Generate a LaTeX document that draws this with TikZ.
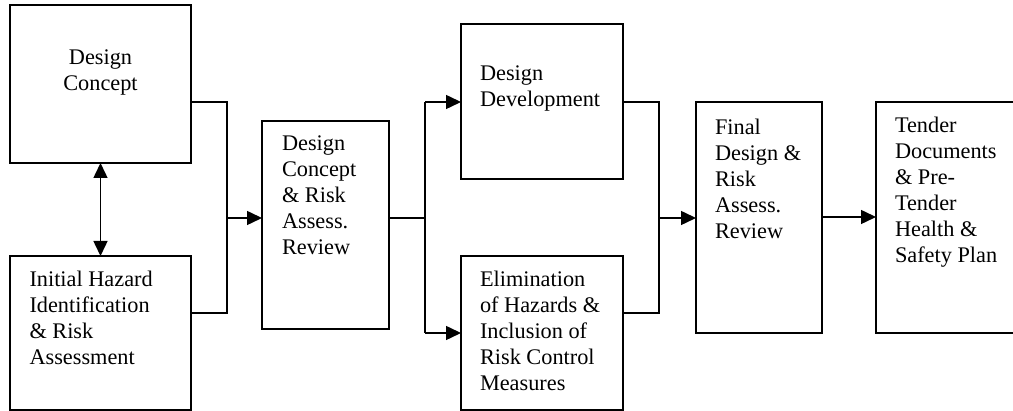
\documentclass[tikz,border=0pt]{standalone}
\usepackage{fontspec}
\setmainfont{Liberation Serif}
\usetikzlibrary{arrows.meta}
\tikzset{
  box/.style={draw=black, line width=1.5pt, inner sep=0pt, outer sep=0pt, anchor=north west},
  txt/.style={inner sep=0pt, outer sep=0pt, align=left, anchor=base west, font=\fontsize{22.3}{26}\selectfont},
  conn/.style={line width=1.5pt},
  arr/.style={line width=1.5pt, -{Triangle[length=15pt,width=14pt]}},
  darr/.style={line width=1.5pt, {Triangle[length=15pt,width=14pt]}-{Triangle[length=15pt,width=14pt]}}
}
\begin{document}
\begin{tikzpicture}[x=1pt,y=-1pt]
\useasboundingbox (0,0) rectangle (1013,411);
% boxes
\node[box, minimum width=181pt, minimum height=158pt] (dc) at (10,5) {};
\node[box, minimum width=181pt, minimum height=154pt] (ih) at (10,256) {};
\node[box, minimum width=127pt, minimum height=208pt] (dcr) at (262,121) {};
\node[box, minimum width=162pt, minimum height=155pt] (dd) at (461,24) {};
\node[box, minimum width=162pt, minimum height=154pt] (el) at (461,256) {};
\node[box, minimum width=126pt, minimum height=231pt] (fd) at (696,102) {};
\node[box, minimum width=150pt, minimum height=231pt] (td) at (876,102) {};
% texts (anchored at the baseline of the last line)
\node[txt, align=center, anchor=base] (dctx) at (100.5,91) {Design\\Concept};
\node[txt] (ihtx) at (29.5,364.5) {Initial Hazard\\Identification\\\& Risk\\Assessment};
\node[txt] (dcrtx) at (282,255) {Design\\Concept\\\& Risk\\Assess.\\Review};
\node[txt] (ddtx) at (480,107) {Design\\Development};
\node[txt] (eltx) at (480,391) {Elimination\\of Hazards \&\\Inclusion of\\Risk Control\\Measures};
\node[txt] (fdtx) at (715,239) {Final\\Design \&\\Risk\\Assess.\\Review};
\node[txt] (tdtx) at (895,263) {Tender\\Documents\\\& Pre-\\Tender\\Health \&\\Safety Plan};
% junction coordinates
\coordinate (ja) at (227,102);
\coordinate (jb) at (227,313);
\coordinate (jm) at (227,218);
\coordinate (ka) at (425,102);
\coordinate (kb) at (425,333);
\coordinate (km) at (425,218);
\coordinate (la) at (659,102);
\coordinate (lb) at (659,313);
\coordinate (lm) at (659,218);
\coordinate (mm) at (822,217);
% connectors
\draw[darr] (dc.south) -- (ih.north);
\draw[conn] (ja -| dc.east) -- (ja) -- (jb) -- (jb -| ih.east);
\draw[arr] (jm) -- (jm -| dcr.west);
\draw[conn] (km -| dcr.east) -- (km);
\draw[conn] (ka) -- (kb);
\draw[arr] (ka) -- (ka -| dd.west);
\draw[arr] (kb) -- (kb -| el.west);
\draw[conn] (la -| dd.east) -- (la) -- (lb) -- (lb -| el.east);
\draw[arr] (lm) -- (lm -| fd.west);
\draw[arr] (mm -| fd.east) -- (mm -| td.west);
\end{tikzpicture}
\end{document}
